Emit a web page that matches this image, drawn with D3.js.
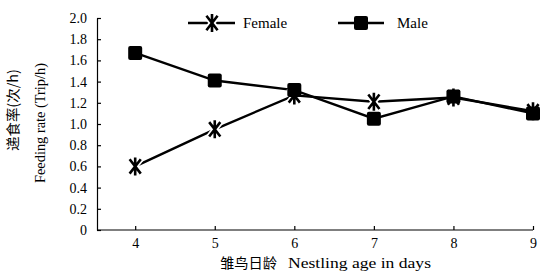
<!DOCTYPE html>
<html>
<head>
<meta charset="utf-8">
<script src="https://cdn.jsdelivr.net/npm/d3@7"></script>
<style>
  body { margin: 0; background: #fff; }
  text { font-family: "Liberation Serif", "Times New Roman", serif; fill: #000; }
  .cjk { font-family: "Noto Sans CJK SC", sans-serif; }
</style>
</head>
<body>
<div id="chart"></div>
<script>
// data
var days = [4, 5, 6, 7, 8, 9];
var female = [0.6, 0.95, 1.27, 1.21, 1.25, 1.12];
var male = [1.67, 1.41, 1.32, 1.05, 1.26, 1.1];
var yTicks = [0, 0.2, 0.4, 0.6, 0.8, 1.0, 1.2, 1.4, 1.6, 1.8, 2.0];

var width = 544, height = 274;
var margin = { top: 18, right: 10, bottom: 44, left: 97 };

var svg = d3.select("#chart").append("svg")
  .attr("width", width)
  .attr("height", height);

var x = d3.scaleLinear().domain([3.52, 9]).range([margin.left, 533]);
var y = d3.scaleLinear().domain([0, 2]).range([height - margin.bottom, margin.top]);

// y axis, ticks pointing inward
var yAxis = svg.append("g")
  .attr("transform", "translate(" + margin.left + ",0)")
  .call(d3.axisLeft(y).tickValues(yTicks).tickSizeInner(-4).tickSizeOuter(0).tickPadding(10)
    .tickFormat(function (d) { return d === 0 ? "0" : d3.format(".1f")(d); }));
yAxis.selectAll("text").style("font-size", "14px").attr("x", -10);
yAxis.selectAll("line, path").attr("stroke", "#000").attr("stroke-width", 1.2);
yAxis.attr("font-family", null);

// x axis, ticks pointing up
var xAxis = svg.append("g")
  .attr("transform", "translate(0," + y(0) + ")")
  .call(d3.axisBottom(x).tickValues(days).tickSizeInner(-4).tickSizeOuter(0)
    .tickFormat(d3.format("d")));
xAxis.selectAll("text").style("font-size", "14px").attr("y", 8);
xAxis.selectAll("line, path").attr("stroke", "#000").attr("stroke-width", 1.2);
xAxis.attr("font-family", null);
xAxis.select(".domain").attr("d", "M" + margin.left + ",0H" + x(9));

// asterisk-like marker: vertical bar plus two steep diagonals
var starType = {
  draw: function (ctx, size) {
    var r = Math.sqrt(size) / 2;
    var dx = r * 0.62, dy = r * 0.8;
    ctx.moveTo(0, -r); ctx.lineTo(0, r);
    ctx.moveTo(-dx, -dy); ctx.lineTo(dx, dy);
    ctx.moveTo(-dx, dy); ctx.lineTo(dx, -dy);
  }
};

var line = d3.line()
  .x(function (d, i) { return x(days[i]); })
  .y(function (d) { return y(d); });

function drawFemaleMarker(g, cx, cy) {
  g.append("path")
    .attr("transform", "translate(" + cx + "," + cy + ")")
    .attr("d", d3.symbol().type(starType).size(324)())
    .attr("stroke", "#fff").attr("stroke-width", 6).attr("fill", "none");
  g.append("path")
    .attr("transform", "translate(" + cx + "," + cy + ")")
    .attr("d", d3.symbol().type(starType).size(324)())
    .attr("stroke", "#000").attr("stroke-width", 2.6).attr("fill", "none");
}

function drawMaleMarker(g, cx, cy) {
  g.append("rect")
    .attr("x", cx - 7).attr("y", cy - 7)
    .attr("width", 14).attr("height", 14)
    .attr("rx", 2)
    .attr("fill", "#000");
}

svg.append("path").datum(male)
  .attr("d", line).attr("fill", "none").attr("stroke", "#000").attr("stroke-width", 2.4);
svg.append("path").datum(female)
  .attr("d", line).attr("fill", "none").attr("stroke", "#000").attr("stroke-width", 2.4);

var marks = svg.append("g");
female.forEach(function (v, i) { drawFemaleMarker(marks, x(days[i]), y(v)); });
male.forEach(function (v, i) { drawMaleMarker(marks, x(days[i]), y(v)); });

// legend
var legend = svg.append("g");
legend.append("line").attr("x1", 188).attr("x2", 235).attr("y1", 23).attr("y2", 23)
  .attr("stroke", "#000").attr("stroke-width", 2.4);
drawFemaleMarker(legend, 212, 23);
legend.append("text").attr("x", 243).attr("y", 28).style("font-size", "15px").text("Female");
legend.append("line").attr("x1", 338).attr("x2", 384).attr("y1", 23).attr("y2", 23)
  .attr("stroke", "#000").attr("stroke-width", 2.4);
drawMaleMarker(legend, 361, 23);
legend.append("text").attr("x", 397).attr("y", 28).style("font-size", "15px").text("Male");

// axis titles
svg.append("text")
  .attr("class", "cjk")
  .attr("transform", "translate(18,110) rotate(-90)")
  .attr("text-anchor", "middle")
  .attr("textLength", 82).attr("lengthAdjust", "spacingAndGlyphs")
  .style("font-size", "14px")
  .text("递食率(次/h)");

svg.append("text")
  .attr("transform", "translate(45,123) rotate(-90)")
  .attr("text-anchor", "middle")
  .attr("textLength", 120).attr("lengthAdjust", "spacingAndGlyphs")
  .style("font-size", "15px")
  .text("Feeding rate (Trip/h)");

svg.append("text")
  .attr("class", "cjk")
  .attr("x", 220).attr("y", 268)
  .attr("textLength", 57).attr("lengthAdjust", "spacingAndGlyphs")
  .style("font-size", "14px")
  .text("雏鸟日龄");
svg.append("text")
  .attr("x", 288).attr("y", 268)
  .attr("textLength", 143).attr("lengthAdjust", "spacingAndGlyphs")
  .style("font-size", "15px")
  .text("Nestling age in days");
</script>
</body>
</html>
